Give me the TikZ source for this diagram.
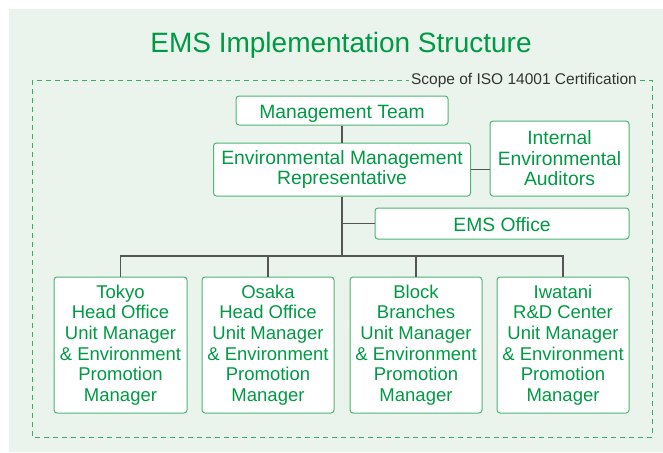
\documentclass[tikz,border=0pt]{standalone}
\usepackage{fontspec}
\setmainfont{Liberation Sans}
\definecolor{bgc}{HTML}{EAF4EC}
\definecolor{tgreen}{HTML}{009A44}
\definecolor{boxline}{HTML}{4DB577}
\definecolor{dashc}{HTML}{3AAE66}
\definecolor{conn}{HTML}{555555}
\begin{document}
\begin{tikzpicture}[x=1pt,y=-1pt,
  box/.style={draw=boxline, fill=white, rounded corners=3pt, line width=1pt,
    text=tgreen, font=\fontsize{18.5}{20.7}\selectfont, align=center, inner sep=0pt},
  topbox/.style={box, font=\fontsize{19.3}{20.5}\selectfont},
  oneline/.style={text height=15.6pt, text depth=0pt},
  link/.style={draw=conn, line width=1.2pt}]
\useasboundingbox (0,0) rectangle (663,452);
\fill[bgc] (9,9) rectangle (663,452);
\node[text=tgreen, font=\fontsize{28}{32}\selectfont] (title) at (341,45.5) {EMS Implementation Structure};
\draw[dashc, line width=1pt, dash pattern=on 5pt off 4pt] (32,80) rectangle (652,437);
\node[fill=bgc, text=black!80, font=\fontsize{15.5}{17}\selectfont, anchor=east, inner sep=2pt] (scope) at (639,80) {Scope of ISO 14001 Certification};

\node[topbox, oneline, minimum width=212pt, minimum height=29pt] (mt) at (342,110.5) {Management Team};
\node[topbox, minimum width=257pt, minimum height=53pt] (emr) at (342,169.5) {Environmental Management\\Representative};
\node[topbox, minimum width=139pt, minimum height=75pt] (iea) at (559.5,158.5) {Internal\\Environmental\\Auditors};
\node[topbox, oneline, minimum width=254pt, minimum height=31pt] (ems) at (502,223.5) {EMS Office};

\node[box, minimum width=133pt, minimum height=136pt] (tokyo) at (120.5,345) {Tokyo\\Head Office\\Unit Manager\\\& Environment\\Promotion\\Manager};
\node[box, minimum width=132pt, minimum height=136pt] (osaka) at (268,345) {Osaka\\Head Office\\Unit Manager\\\& Environment\\Promotion\\Manager};
\node[box, minimum width=132pt, minimum height=136pt] (block) at (416,345) {Block\\Branches\\Unit Manager\\\& Environment\\Promotion\\Manager};
\node[box, minimum width=132pt, minimum height=136pt] (iwatani) at (563,345) {Iwatani\\R\&D Center\\Unit Manager\\\& Environment\\Promotion\\Manager};

\coordinate (bus) at (342,256);
\draw[link] (mt.south) -- (emr.north);
\draw[link] (emr.east) -- (emr.east -| iea.west);
\draw[link] (emr.south) -- (bus);
\draw[link] (emr.south |- ems.west) -- (ems.west);
\draw[link] (tokyo.north) |- (iwatani.north |- bus) -- (iwatani.north);
\draw[link] (osaka.north) -- (osaka.north |- bus);
\draw[link] (block.north) -- (block.north |- bus);
\end{tikzpicture}
\end{document}
